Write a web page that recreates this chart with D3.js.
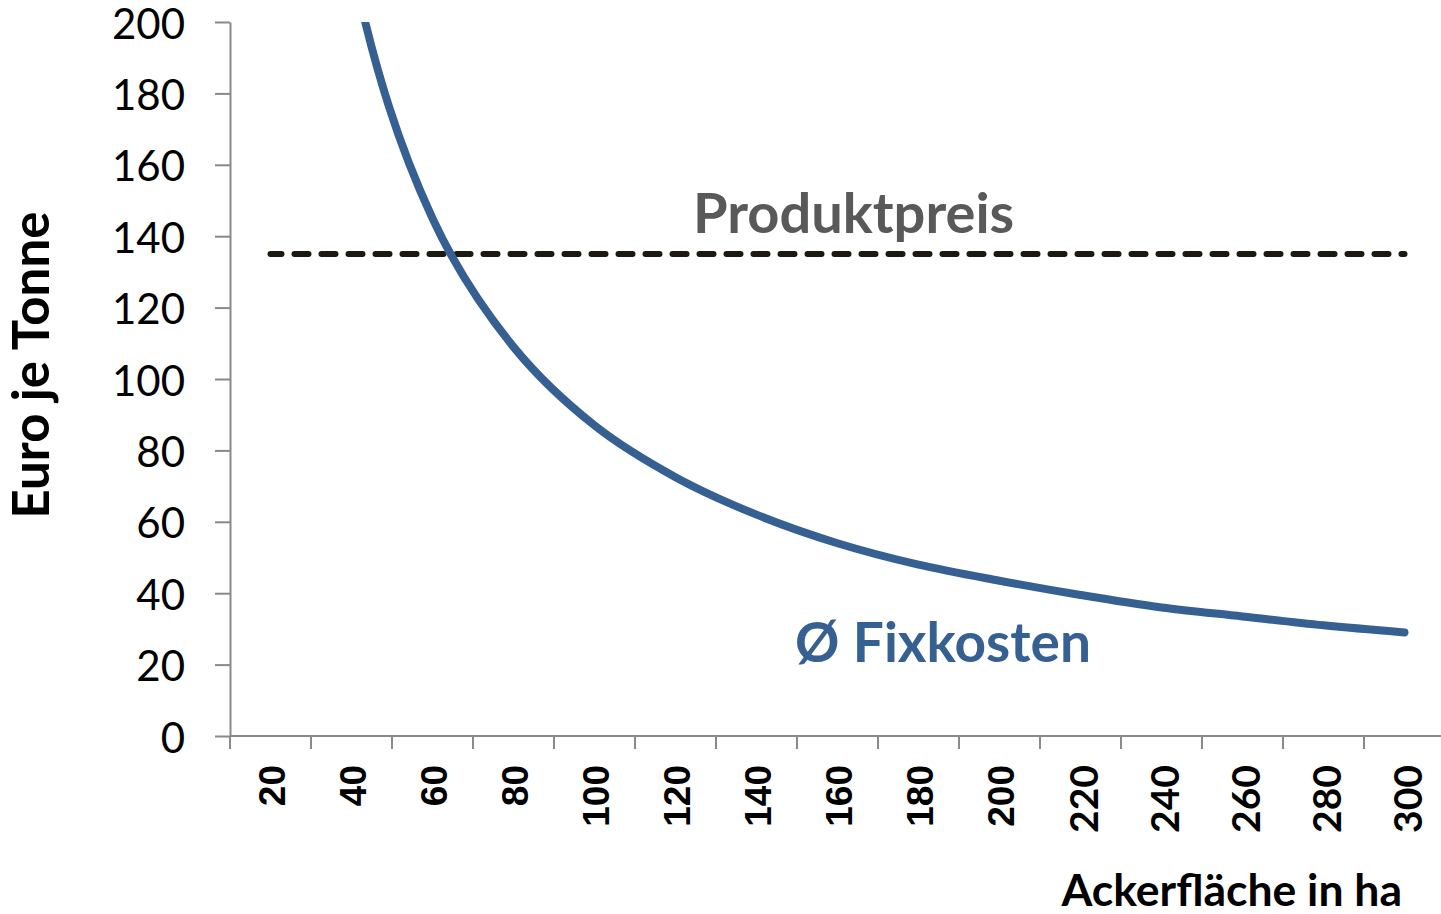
<!DOCTYPE html>
<html>
<head>
<meta charset="utf-8">
<script src="https://cdn.jsdelivr.net/npm/d3@7"></script>
<style>
  body { margin: 0; background: #fff; }
</style>
</head>
<body>
<div id="chart"></div>
<script>
// categories (Ackerfläche in ha)
const areas = [20, 40, 60, 80, 100, 120, 140, 160, 180, 200, 220, 240, 260, 280, 300];
// average fixed costs, Euro per tonne
const fixCosts = [435, 217, 145, 109, 87, 72.5, 62, 54, 48, 43.5, 39.5, 36, 33.5, 31, 29];
// product price, Euro per tonne
const productPrice = 135;
const yTicks = [0, 20, 40, 60, 80, 100, 120, 140, 160, 180, 200];

const W = 1441, H = 914;
const margin = { top: 22, right: -4, bottom: 178, left: 230 };
const width = W - margin.left - margin.right;
const height = H - margin.top - margin.bottom;

const lato = "Lato, 'Open Sans', sans-serif";
const arial = "'Liberation Sans', Arial, sans-serif";
const axisColor = "#898989";
const blue = "#366092";

const svg = d3.select("#chart").append("svg")
    .attr("width", W)
    .attr("height", H)
    .append("g")
    .attr("transform", `translate(${margin.left},${margin.top})`);

const x = d3.scaleBand()
    .domain(areas)
    .range([0, width]);

const y = d3.scaleLinear()
    .domain([0, 200])
    .range([height, 0]);

svg.append("defs").append("clipPath")
    .attr("id", "plot")
    .append("rect")
    .attr("x", 0).attr("y", 0)
    .attr("width", width).attr("height", height);

// y axis
const yAxis = svg.append("g")
    .call(d3.axisLeft(y).tickValues(yTicks).tickSize(15).tickSizeOuter(0).tickPadding(30));
yAxis.select(".domain").attr("stroke", axisColor).attr("stroke-width", 2);
yAxis.selectAll(".tick line").attr("stroke", axisColor).attr("stroke-width", 2);
yAxis.selectAll(".tick text")
    .attr("dy", null)
    .attr("dominant-baseline", "central")
    .style("font-family", lato)
    .style("font-size", "42px")
    .style("fill", "#000");

// x axis: ticks at category boundaries, labels centred in each band
const xAxis = svg.append("g")
    .attr("transform", `translate(0,${height})`);
xAxis.append("line")
    .attr("x1", 0).attr("x2", width)
    .attr("stroke", axisColor).attr("stroke-width", 2);
xAxis.selectAll(".xtick")
    .data(areas)
    .enter().append("line")
    .attr("class", "xtick")
    .attr("x1", d => x(d)).attr("x2", d => x(d))
    .attr("y1", 0).attr("y2", 13)
    .attr("stroke", axisColor).attr("stroke-width", 2);
xAxis.selectAll(".xlabel")
    .data(areas)
    .enter().append("text")
    .attr("class", "xlabel")
    .attr("transform", d => `translate(${x(d) + x.bandwidth() / 2 + 2},29) rotate(-90)`)
    .attr("text-anchor", "end")
    .attr("dominant-baseline", "central")
    .style("font-family", (d, i) => i < 10 ? arial : lato)
    .style("font-weight", "bold")
    .style("font-size", (d, i) => i < 10 ? "37px" : "39px")
    .style("fill", "#000")
    .text(d => d);

// product price (dashed)
svg.append("line")
    .attr("x1", x(areas[0]) + x.bandwidth() / 2)
    .attr("x2", x(areas[areas.length - 1]) + x.bandwidth() / 2)
    .attr("y1", y(productPrice))
    .attr("y2", y(productPrice))
    .attr("stroke", "#1c1a10")
    .attr("stroke-width", 6)
    .attr("stroke-linecap", "round")
    .attr("stroke-dasharray", "14,13")
    .attr("stroke-dashoffset", 3);

// fixed costs curve
const line = d3.line()
    .x((d, i) => x(areas[i]) + x.bandwidth() / 2)
    .y(d => y(d))
    .curve(d3.curveCatmullRom.alpha(0.5));

svg.append("path")
    .datum(fixCosts)
    .attr("clip-path", "url(#plot)")
    .attr("fill", "none")
    .attr("stroke", blue)
    .attr("stroke-width", 8)
    .attr("stroke-linecap", "round")
    .attr("d", line);

// annotations
svg.append("text")
    .attr("x", 693 - margin.left)
    .attr("y", 233 - margin.top)
    .style("font-family", lato)
    .style("font-weight", "bold")
    .style("font-size", "56px")
    .style("fill", "#595959")
    .text("Produktpreis");

svg.append("text")
    .attr("x", 795 - margin.left)
    .attr("y", 662 - margin.top)
    .style("font-family", lato)
    .style("font-weight", "bold")
    .style("font-size", "55px")
    .style("fill", blue)
    .text("Ø Fixkosten");

// axis titles
svg.append("text")
    .attr("x", 1402 - margin.left)
    .attr("y", 906 - margin.top)
    .attr("text-anchor", "end")
    .style("font-family", lato)
    .style("font-weight", "bold")
    .style("font-size", "44.5px")
    .style("fill", "#000")
    .text("Ackerfläche in ha");

svg.append("text")
    .attr("transform", `translate(${49 - margin.left},${365 - margin.top}) rotate(-90)`)
    .attr("text-anchor", "middle")
    .style("font-family", lato)
    .style("font-weight", "bold")
    .style("font-size", "51px")
    .style("fill", "#000")
    .text("Euro je Tonne");
</script>
</body>
</html>
